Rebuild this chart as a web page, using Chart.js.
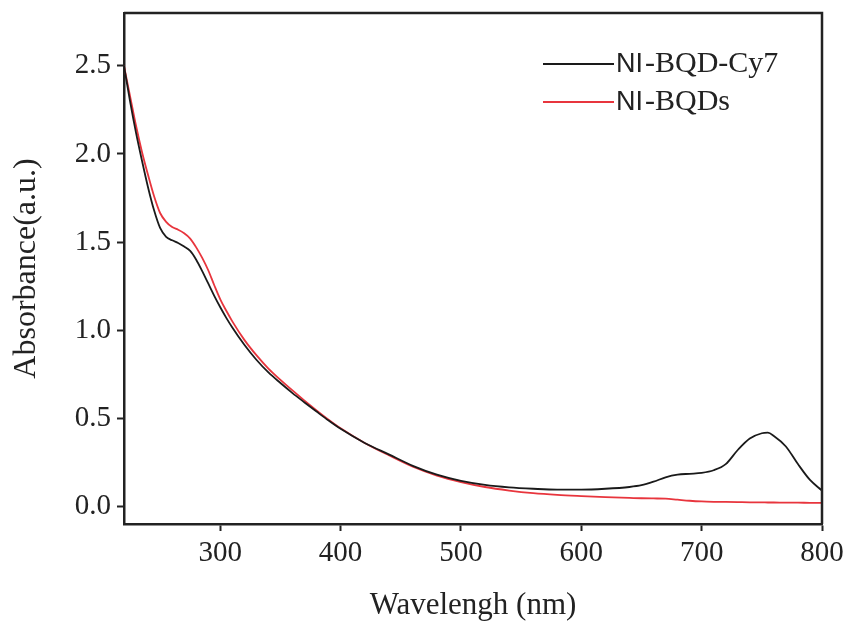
<!DOCTYPE html>
<html>
<head>
<meta charset="utf-8">
<script src="https://cdn.jsdelivr.net/npm/chart.js@4.4.1/dist/chart.umd.min.js"></script>
<style>
  html, body { margin: 0; padding: 0; background: #fff; }
  #wrap { width: 850px; height: 627px; }
</style>
</head>
<body>
<div id="wrap"><canvas id="absChart" width="850" height="627"></canvas></div>
<script>
const wavelengths = [220, 225, 230, 235, 240, 245, 250, 255, 260, 265, 270, 275, 280, 285, 290, 295,
  300, 305, 310, 320, 330, 340, 350, 360, 370, 380, 390, 400, 420, 440, 460, 480, 500, 520, 540, 560, 580,
  600, 620, 640, 650, 660, 670, 680, 690, 700, 710, 720, 730, 740, 750, 755, 760, 770, 780, 790, 800];
const cy7Values = [2.50, 2.30, 2.12, 1.96, 1.81, 1.68, 1.58, 1.53, 1.51, 1.495, 1.475, 1.45, 1.40, 1.335, 1.265, 1.195,
  1.13, 1.07, 1.015, 0.917, 0.832, 0.76, 0.70, 0.643, 0.59, 0.538, 0.487, 0.44, 0.36, 0.295, 0.23, 0.18, 0.145, 0.122, 0.108, 0.100, 0.095,
  0.095, 0.100, 0.110, 0.120, 0.140, 0.165, 0.180, 0.185, 0.190, 0.205, 0.240, 0.320, 0.385, 0.415, 0.418, 0.400, 0.340, 0.240, 0.150, 0.090];
const bqdValues = [2.50, 2.33, 2.16, 2.01, 1.88, 1.76, 1.665, 1.615, 1.585, 1.57, 1.55, 1.52, 1.47, 1.41, 1.34, 1.255,
  1.175, 1.11, 1.05, 0.945, 0.858, 0.782, 0.718, 0.658, 0.60, 0.545, 0.492, 0.443, 0.36, 0.29, 0.225, 0.175, 0.138, 0.11, 0.09, 0.075, 0.065,
  0.058, 0.052, 0.048, 0.046, 0.045, 0.044, 0.038, 0.032, 0.028, 0.026, 0.025, 0.024, 0.023, 0.023, 0.022, 0.022, 0.021, 0.021, 0.020, 0.020];
const seriesLabels = ['NI-BQD-Cy7', 'NI-BQDs'];
const seriesColors = ['#1a1a1a', '#e8353d'];
const xTicks = [300, 400, 500, 600, 700, 800];
const yTicks = [0, 0.5, 1.0, 1.5, 2.0, 2.5];

const serif = "'Liberation Serif', 'Times New Roman', serif";
const sans = "'Liberation Sans', Arial, sans-serif";
const axisColor = '#222';

function toPoints(values) {
    return wavelengths.map(function(w, i) { return { x: w, y: values[i] }; });
}

// frame on top/right + legend inside plot
const framePlugin = {
    id: 'frameAndLegend',
    afterDraw: function(chart) {
        const ctx = chart.ctx;
        const a = chart.chartArea;
        ctx.save();
        ctx.strokeStyle = axisColor;
        ctx.lineWidth = 2.5;
        ctx.beginPath();
        ctx.moveTo(a.left, a.top);
        ctx.lineTo(a.right, a.top);
        ctx.lineTo(a.right, a.bottom);
        ctx.stroke();

        const rows = [64, 102];
        chart.data.datasets.forEach(function(ds, i) {
            const y = rows[i];
            ctx.strokeStyle = ds.borderColor;
            ctx.lineWidth = 2;
            ctx.beginPath();
            ctx.moveTo(543, y);
            ctx.lineTo(614, y);
            ctx.stroke();
            // "NI" is set in a sans face in the original, the rest in serif
            const head = ds.label.slice(0, 2);
            const rest = ds.label.slice(2);
            ctx.fillStyle = '#222';
            ctx.textBaseline = 'middle';
            ctx.textAlign = 'left';
            ctx.font = '27px ' + sans;
            ctx.fillText(head, 616, y + 1);
            const w = ctx.measureText(head).width;
            ctx.font = '30px ' + serif;
            ctx.fillText(rest, 616 + w + 2, y);
        });
        ctx.restore();
    }
};

new Chart(document.getElementById('absChart'), {
    type: 'line',
    data: {
        datasets: [{
            label: seriesLabels[0],
            data: toPoints(cy7Values),
            borderColor: seriesColors[0],
            borderWidth: 1.8,
            pointRadius: 0,
            cubicInterpolationMode: 'monotone'
        }, {
            label: seriesLabels[1],
            data: toPoints(bqdValues),
            borderColor: seriesColors[1],
            borderWidth: 1.8,
            pointRadius: 0,
            cubicInterpolationMode: 'monotone'
        }]
    },
    options: {
        responsive: false,
        animation: false,
        devicePixelRatio: 1,
        layout: { padding: { top: 13, right: 28, left: 0, bottom: 0 } },
        plugins: {
            legend: { display: false },
            tooltip: { enabled: false }
        },
        scales: {
            x: {
                type: 'linear',
                min: 220,
                max: 800,
                afterBuildTicks: function(scale) {
                    scale.ticks = xTicks.map(function(v) { return { value: v }; });
                },
                afterFit: function(scale) {
                    scale.height = 103;
                    scale.paddingLeft = 0;
                    scale.paddingRight = 0;
                },
                grid: {
                    drawOnChartArea: false,
                    drawTicks: true,
                    tickLength: 7,
                    tickWidth: 2,
                    tickColor: axisColor
                },
                border: { display: true, color: axisColor, width: 2.5 },
                ticks: {
                    color: '#222',
                    padding: 5,
                    maxRotation: 0,
                    font: { family: serif, size: 29 }
                },
                title: {
                    display: true,
                    text: 'Wavelengh (nm)',
                    color: '#222',
                    font: { family: serif, size: 31 },
                    padding: { top: 0, bottom: 3 }
                }
            },
            y: {
                min: -0.1,
                max: 2.8,
                afterBuildTicks: function(scale) {
                    scale.ticks = yTicks.map(function(v) { return { value: v }; });
                },
                afterFit: function(scale) {
                    scale.width = 124;
                    scale.paddingTop = 0;
                    scale.paddingBottom = 0;
                },
                grid: {
                    drawOnChartArea: false,
                    drawTicks: true,
                    tickLength: 7,
                    tickWidth: 2,
                    tickColor: axisColor
                },
                border: { display: true, color: axisColor, width: 2.5 },
                ticks: {
                    color: '#222',
                    padding: 6,
                    font: { family: serif, size: 29 },
                    callback: function(value) { return value.toFixed(1); }
                },
                title: {
                    display: true,
                    text: 'Absorbance(a.u.)',
                    color: '#222',
                    font: { family: serif, size: 32 },
                    padding: { top: 7, bottom: 0 }
                }
            }
        }
    },
    plugins: [framePlugin]
});
</script>
</body>
</html>
